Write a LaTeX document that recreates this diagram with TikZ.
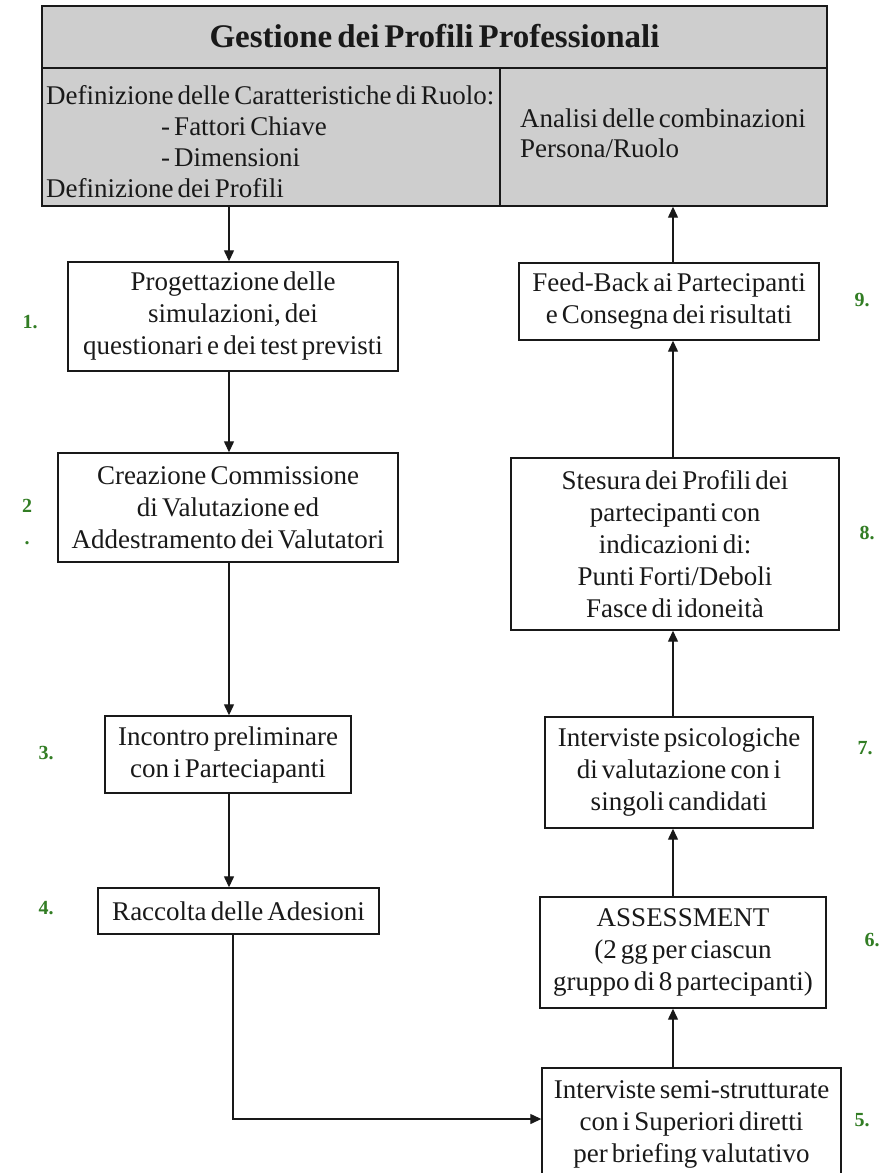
\documentclass[tikz,border=0pt]{standalone}
\usepackage{fontspec}
\setmainfont[WordSpace=0.6]{Liberation Serif}
\usetikzlibrary{arrows.meta}
\definecolor{headgray}{RGB}{206,206,206}
\definecolor{numgreen}{RGB}{50,125,36}
\definecolor{ink}{RGB}{25,25,25}
\begin{document}
\begin{tikzpicture}[x=1pt,y=1pt,
  stepbox/.style={draw=ink, line width=1.4pt, inner sep=0pt, align=center,
    font=\fontsize{27}{32}\selectfont, text=ink},
  arr/.style={draw=ink, line width=1.3pt, -{Triangle[length=11pt,width=10pt]}},
  num/.style={font=\fontsize{20}{32}\selectfont\bfseries, text=numgreen, align=center, inner sep=0pt},
  htext/.style={font=\fontsize{27}{32}\selectfont, text=ink, inner sep=0pt, anchor=base west}]
\useasboundingbox (0,0) rectangle (888,-1173);

% header
\node[draw=ink, line width=1.4pt, fill=headgray, minimum width=785pt, minimum height=200pt, inner sep=0pt] (head) at (434.5,-106) {};
\node[font=\fontsize{33}{38}\selectfont\bfseries, text=ink, inner sep=0pt, anchor=base] (title) at (434.5,-47) {Gestione dei Profili Professionali};
\coordinate (hl) at (42,-68);
\coordinate (hr) at (827,-68);
\coordinate (vt) at (500,-68);
\draw[draw=ink, line width=1.4pt] (hl) -- (hr);
\draw[draw=ink, line width=1.4pt] (vt) -- (vt |- head.south);
\node[htext] (h1) at (46,-104) {Definizione delle Caratteristiche di Ruolo:};
\node[htext] (h2) at (161,-135) {- Fattori Chiave};
\node[htext] (h3) at (161,-166) {- Dimensioni};
\node[htext] (h4) at (46,-197) {Definizione dei Profili};
\node[htext] (h5) at (520,-127) {Analisi delle combinazioni};
\node[htext] (h6) at (520,-157) {Persona/Ruolo};

% left column
\node[stepbox, minimum width=330pt, minimum height=109pt] (b1) at (233,-316.5)
  {Progettazione delle\\simulazioni, dei\\questionari e dei test previsti};
\node[stepbox, minimum width=340pt, minimum height=109pt] (b2) at (228,-507.5)
  {Creazione Commissione\\di Valutazione ed\\Addestramento dei Valutatori};
\node[stepbox, minimum width=246pt, minimum height=77pt] (b3) at (228,-754.5)
  {Incontro preliminare\\con i Parteciapanti};
\node[stepbox, minimum width=281pt, minimum height=46pt] (b4) at (238.5,-911)
  {Raccolta delle Adesioni};

% right column
\node[stepbox, minimum width=299pt, minimum height=112pt] (b5) at (691.5,-1124)
  {Interviste semi-strutturate\\con i Superiori diretti\\per briefing valutativo};
\node[stepbox, minimum width=286pt, minimum height=111pt] (b6) at (683,-952.5)
  {ASSESSMENT\\(2 gg per ciascun\\gruppo di 8 partecipanti)};
\node[stepbox, minimum width=268pt, minimum height=111pt] (b7) at (679,-772.5)
  {Interviste psicologiche\\di valutazione con i\\singoli candidati};
\node[stepbox, minimum width=328pt, minimum height=172pt] (b8) at (675,-544)
  {Stesura dei Profili dei\\partecipanti con\\indicazioni di:\\Punti Forti/Deboli\\Fasce di idoneità};
\node[stepbox, minimum width=300pt, minimum height=77pt] (b9) at (669,-301.5)
  {Feed-Back ai Partecipanti\\e Consegna dei risultati};

% numbers
\node[num] (n1) at (30,-322) {1.};
\node[num] (n2) at (27,-522) {2\\.};
\node[num] (n3) at (46,-753) {3.};
\node[num] (n4) at (46,-908) {4.};
\node[num] (n5) at (862,-1120) {5.};
\node[num] (n6) at (872,-940) {6.};
\node[num] (n7) at (865,-748) {7.};
\node[num] (n8) at (867,-533) {8.};
\node[num] (n9) at (862,-300) {9.};

% connectors
\coordinate (lx) at (229,0);
\coordinate (lx4) at (233,0);
\coordinate (rx) at (673,0);
\coordinate (hy) at (0,-1119);
\draw[arr] (head.south -| lx) -- (b1.north -| lx);
\draw[arr] (b1.south -| lx) -- (b2.north -| lx);
\draw[arr] (b2.south -| lx) -- (b3.north -| lx);
\draw[arr] (b3.south -| lx) -- (b4.north -| lx);
\draw[arr] (b4.south -| lx4) |- (hy -| b5.west);
\draw[arr] (b5.north -| rx) -- (b6.south -| rx);
\draw[arr] (b6.north -| rx) -- (b7.south -| rx);
\draw[arr] (b7.north -| rx) -- (b8.south -| rx);
\draw[arr] (b8.north -| rx) -- (b9.south -| rx);
\draw[arr] (b9.north -| rx) -- (head.south -| rx);
\end{tikzpicture}
\end{document}
